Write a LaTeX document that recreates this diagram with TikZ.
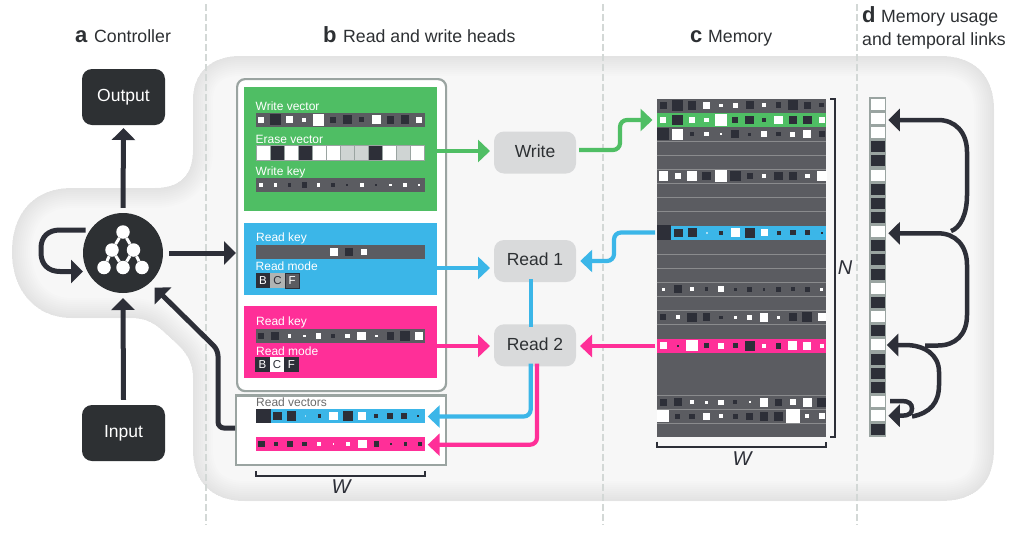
\documentclass[tikz,border=0pt]{standalone}
\usepackage{fontspec}
\setmainfont{Liberation Sans}
\usetikzlibrary{arrows.meta,calc}
\definecolor{cW}{HTML}{FFFFFF}
\definecolor{cK}{HTML}{2D2F38}
\definecolor{cG}{HTML}{CFD4D3}
\definecolor{cL}{HTML}{A9DDF3}
\definecolor{cP}{HTML}{FF9CCB}
\definecolor{barc}{HTML}{5B5C61}
\definecolor{dark}{HTML}{2D3033}
\definecolor{frame}{HTML}{9AA4A1}
\definecolor{nodeg}{HTML}{D9DADB}
\definecolor{gr}{HTML}{4FBE64}
\definecolor{bl}{HTML}{3BB6E8}
\definecolor{pk}{HTML}{FF2F98}
\definecolor{sep}{HTML}{8A8B8D}
\definecolor{dashc}{HTML}{D3D8D6}
\newcommand{\cellrow}[4]{% x0, dx, y, list
  \foreach \c/\s [count=\i from 0] in {#4} {
    \fill[c\c] ({#1+#2*\i-\s/2-0.4},{#3-\s/2-0.4}) rectangle ++({\s+0.8},{\s+0.8});
  }}
\def\blobpath{(240,56) -- (940,56) .. controls (975,56) and (994,76) .. (994,110) -- (994,448) .. controls (994,484) and (975,501) .. (940,501) -- (245,501) .. controls (212,501) and (193,482) .. (193,450) -- (193,378) .. controls (193,362) and (186,352) .. (176,343) -- (163,331) .. controls (152,321) and (143,318) .. (130,318) -- (72,318) .. controls (35,318) and (12,290) .. (12,252) .. controls (12,212) and (35,188) .. (72,188) -- (155,188) .. controls (180,188) and (193,175) .. (193,150) -- (193,100) .. controls (193,72) and (212,56) .. (240,56) -- cycle}
\tikzset{
  x=1pt,y=-1pt,
  head/.style={font=\fontsize{17.7}{20}\selectfont,text=#1,anchor=base west,inner sep=0pt},
  headb/.style={font=\fontsize{22}{22}\selectfont\bfseries,text=dark,anchor=base west,inner sep=0pt},
  darkbox/.style={fill=dark,rounded corners=10pt,minimum width=83pt,minimum height=56pt,inner sep=0pt,text=white,font=\fontsize{17.5}{20}\selectfont,text height=12.5pt,text depth=3.5pt},
  graybox/.style={fill=nodeg,rounded corners=10pt,minimum width=82pt,minimum height=42pt,inner sep=0pt,text=dark,font=\fontsize{17.5}{20}\selectfont,text height=12.6pt,text depth=3pt},
  panel/.style={fill=#1,minimum width=192.5pt,anchor=north west,inner sep=0pt,outer sep=0pt},
  lab/.style={font=\fontsize{12}{14}\selectfont,text=white,anchor=base west,inner sep=0pt},
  modecell/.style={minimum width=14.1pt,minimum height=15pt,inner sep=0pt,anchor=north west,font=\fontsize{11.5}{13}\selectfont},
  bigarrow/.style={line width=5pt,draw=cK,-{Triangle[length=12pt,width=23pt]}},
  colarrow/.style={line width=4.2pt,draw=#1,-{Triangle[length=12pt,width=22pt]},rounded corners=7pt},
  linkarrow/.style={line width=4.5pt,draw=cK,-{Triangle[length=11.5pt,width=22pt]}},
  frm/.style={draw=frame,line width=2.2pt,fill=white},
  brack/.style={draw=cK,line width=2pt},
  usecell/.style={draw=frame,line width=1.6pt,minimum width=15.5pt,minimum height=12.6pt,inner sep=0pt,anchor=north west,outer sep=0pt},
  dashline/.style={draw=dashc,line width=1.6pt,dash pattern=on 7pt off 3pt},
  italw/.style={font=\fontsize{20}{22}\selectfont\itshape,text=cK,inner sep=0pt},
}
\begin{document}
\begin{tikzpicture}
\useasboundingbox (0,0) rectangle (1016,533);
% background blob
\fill[white] (0,0) rectangle (1016,533);
\fill[black!3] \blobpath;
\begin{scope}
  \clip \blobpath;
  \foreach \w in {40,36,...,4} {
    \draw[black,opacity=0.0075,line width=\w pt] \blobpath;
  }
\end{scope}
% dashed separators
\foreach \xx/\nm in {206/da,603/db,857/dc} {
  \coordinate (\nm t) at (\xx,4);
  \coordinate (\nm b) at (\xx,525);
  \draw[dashline] (\nm t) -- (\nm b);
}
% headers
\node[headb] (ha) at (75,42) {a};
\node[head=dark] (hat) at (94,42) {Controller};
\node[headb] (hb) at (323,42) {b};
\node[head=dark] (hbt) at (343,42) {Read and write heads};
\node[headb] (hc) at (690,42) {c};
\node[head=dark] (hct) at (708,42) {Memory};
\node[headb] (hd) at (862,22.5) {d};
\node[head=dark] (hdt) at (881,22.5) {Memory usage};
\node[head=dark] (hdu) at (862,45) {and temporal links};
% controller column
\node[darkbox] (output) at (123.5,97) {Output};
\node[darkbox] (input) at (123.5,433) {Input};
\node[circle,fill=dark,minimum size=80pt,inner sep=0pt] (ctrl) at (123,253) {};
\foreach \nm/\xx/\yy in {n1/123/232,n2/112/250,n3/133.5/250,n4/104/267.5,n5/123/267.5,n6/142/267.5} {
  \node[circle,fill=white,minimum size=13.5pt,inner sep=0pt] (\nm) at (\xx,\yy) {};
}
\foreach \aa/\bb in {n1/n2,n1/n3,n2/n4,n2/n5,n3/n5,n3/n6} {
  \draw[white,line width=3pt] (\aa) -- (\bb);
}
\draw[bigarrow] (ctrl.north) ++(0,-5) -- (output.south |- 0,128);
\draw[bigarrow] (input.north) ++(0,-5) -- (ctrl.south |- 0,298);
\coordinate (loopstart) at (85.5,230);
\coordinate (looptip) at (83,271.5);
\draw[bigarrow] (loopstart) -- (60,230) .. controls (48,230) and (41,237) .. (41,248) -- (41,253) .. controls (41,264) and (48,271.5) .. (60,271.5) -- (looptip);
% read/write heads frame
\node[frm,rounded corners=8pt,minimum width=209pt,minimum height=312pt,inner sep=0pt,anchor=north west] (heads) at (236,78) {};
\node[panel=gr,minimum height=124pt] (pgreen) at (244,87) {};
\node[panel=bl,minimum height=72pt] (pblue) at (244,223) {};
\node[panel=pk,minimum height=72pt] (ppink) at (244,306) {};
% Write vector
\node[lab] (lwv) at (255.5,110) {Write vector};
\fill[barc] (255.7,112.7) rectangle (425,126.7);
\cellrow{261}{14.39}{119.7}{W/5,K/10,W/6,W/3.5,W/11,K/5,K/8.5,K/4,W/8,K/7,K/8,W/5}
% Erase vector
\node[lab] (lev) at (255.5,143.3) {Erase vector};
\fill[frame] (255.7,145) rectangle (425,161);
\foreach \c [count=\i from 0] in {W,K,W,K,W,W,G,G,K,W,G,W} {
  \fill[c\c] ({256.5+14.08*\i},146) rectangle ++(13,14);
}
% Write key
\node[lab] (lwk) at (255.5,175.3) {Write key};
\fill[barc] (255.7,178) rectangle (425,192);
\cellrow{261}{14.39}{185}{W/2.5,W/2.5,K/2.5,K/4.5,W/2.5,K/2.5,K/1,W/3,K/1,W/1.5,W/3,W/1.5}
% Read key blue
\node[lab] (lrk1) at (256,241) {Read key};
\fill[barc] (255.7,245) rectangle (425,258.7);
\fill[white] (330.3,248) rectangle ++(8,8);
\fill[cK] (345.3,248) rectangle ++(8,8);
\fill[white] (360.7,249) rectangle ++(6,6);
\node[lab] (lrm1) at (255.5,270) {Read mode};
\node[modecell,fill=cK,text=white] (b1) at (255.7,272.5) {B};
\node[modecell,fill=cG!85!black,text=cK] (c1) at (b1.north east) {C};
\node[modecell,fill=barc,text=white,draw=cK,line width=0.6pt] (f1) at (c1.north east) {F};
% Read key pink
\node[lab] (lrk2) at (256,325) {Read key};
\fill[barc] (255.7,329) rectangle (425,343);
\cellrow{261}{14.39}{336}{K/6,K/7,W/2.5,W/2,W/4.5,K/3,W/4,W/8,W/2,K/7,K/9.5,W/7}
\node[lab] (lrm2) at (256,355) {Read mode};
\node[modecell,fill=cK,text=white] (b2) at (255.2,356.7) {B};
\node[modecell,fill=white,text=cK] (c2) at (b2.north east) {C};
\node[modecell,fill=cK,text=white] (f2) at (c2.north east) {F};
% Read vectors
\node[frm,minimum width=209.5pt,minimum height=69.5pt,inner sep=0pt,anchor=north west] (rv) at (235,394.3) {};
\node[lab,text=black!58] (lrv) at (256,406.7) {Read vectors};
\fill[bl] (256,409) rectangle (425,423);
\cellrow{263.3}{14.08}{416}{K/14,K/7.5,K/8.5,L/1,K/2.5,W/8,K/9,W/6.5,K/3,K/4.5,K/4.5,K/1.5}
\fill[pk] (256,437) rectangle (425,451);
\cellrow{261.5}{14.39}{444}{K/6,K/3,K/5.5,K/4,W/3,W/1,W/3.5,W/8,K/4.5,K/2,K/3,K/3}
\coordinate (wl1) at (256,471);
\coordinate (wr1) at (425,471);
\draw[brack] (wl1) -- ++(0,4.5) -| (wr1);
\node[italw] (w1) at (341,487) {W};
% output of read vectors to controller
\draw[bigarrow,rounded corners=6pt] (rv.west |- 0,428) -- (218,428) -- (218,350) -- (154.5,287.5);
% controller to heads
\draw[bigarrow] (ctrl.east) ++(6,0) -- (heads.west |- ctrl.east);
% head nodes
\node[graybox] (write) at (535,152.5) {Write};
\node[graybox] (read1) at (535,261) {Read 1};
\node[graybox] (read2) at (535,345.3) {Read 2};
\draw[colarrow=gr] (pgreen.east |- 0,151) -- (490,151);
\draw[colarrow=bl] (pblue.east |- 0,268) -- (490,268);
\draw[colarrow=pk] (ppink.east |- 0,346) -- (490,346);
\draw[line width=4.2pt,draw=bl] ([xshift=-4.3pt,yshift=3pt]read1.south) -- ([xshift=-4.3pt,yshift=-3pt]read2.north);
% memory
\fill[barc] (656.7,99) rectangle (826,437.3);
\coordinate (memtl) at (656.7,99);
\foreach \k in {3,4,5,6,7,8,11,12,13,14,15,16,21,22,23} {
  \draw[sep,line width=1pt] (656.7,{99+14.1*\k}) -- (826,{99+14.1*\k});
}
\fill[gr] (656.7,113.2) rectangle (826,127.3);
\fill[bl] (656.7,225.9) rectangle (826,240);
\fill[pk] (656.7,338.5) rectangle (826,352.7);
\def\mx{663.3}\def\mdx{14.39}
\cellrow{\mx}{\mdx}{105.2}{K/6.5,K/10,K/8,W/6.5,W/2.5,W/4.5,K/7,W/3.5,K/5,K/9.5,K/6.5,K/3.5}
\cellrow{\mx}{\mdx}{120}{W/5,K/10,W/6,W/3.5,W/11,K/5,K/8,K/4,W/8,K/7,K/8,W/5}
\cellrow{\mx}{\mdx}{134.3}{K/11,W/10,K/3.5,W/3.5,W/1.5,K/7,K/2.5,W/5,K/3.5,W/4.5,W/7,K/5}
\cellrow{\mx}{\mdx}{176}{W/8.5,W/5,W/8.5,K/7.5,W/11,K/10,K/5,W/4,K/8,K/7.5,W/4,W/9}
\cellrow{664}{14.34}{232.7}{K/14,K/7.5,K/8.5,L/1,K/3,W/8,K/9,W/6.5,K/3,K/4.5,K/4.5,K/1.5}
\cellrow{\mx}{\mdx}{289.3}{W/2.5,K/7.5,W/3,K/3,W/5.5,K/2,K/4,K/2,K/4.5,K/3.5,K/4,W/2.5}
\cellrow{\mx}{\mdx}{317.3}{K/5.5,W/3.5,K/8.5,K/7,K/2.5,W/2.5,W/4.5,W/8,W/2,K/7,K/9.5,W/7}
\cellrow{\mx}{\mdx}{345.7}{W/6,K/1,W/10.5,K/4,W/5.5,K/4,K/9.5,W/3,K/5,W/8,W/7.5,W/3}
\cellrow{\mx}{\mdx}{402.3}{K/6.5,K/7,W/3,W/2,W/4.5,K/3,W/1.5,W/8,K/6.5,W/5,W/8,K/8.5}
\cellrow{\mx}{\mdx}{416.3}{W/11,K/4.5,K/4.5,W/6,W/3.5,K/4.5,K/6,K/8,K/8,W/13,W/3,W/5}
% memory brackets
\coordinate (ntop) at (830,99);
\coordinate (nbot) at (830,437.3);
\draw[brack] (ntop) -- ++(4.5,0) |- (nbot);
\node[italw] (nlab) at (845,268) {N};
\coordinate (wl2) at (656.5,441.5);
\coordinate (wr2) at (826.3,441.5);
\draw[brack] (wl2) -- ++(0,5) -| (wr2);
\node[italw] (w2) at (742,459) {W};
% arrows to and from memory
\coordinate (memgreen) at (652.5,120);
\coordinate (memblue) at (655,232.5);
\coordinate (mempink) at (655,346);
\draw[colarrow=gr] (write.east |- 0,150) ++(3,0) -- (620,150) -- (620,120) -- (memgreen);
\draw[colarrow=bl] (memblue) -- (614,232.5) -- (614,261) -- ([xshift=4pt]read1.east);
\draw[colarrow=pk] (mempink) -- (580,346);
\draw[colarrow=bl] ([xshift=-4.3pt,yshift=3pt]read2.south) -- (530.7,416.5) -- (427.7,416.5);
\draw[colarrow=pk] ([xshift=2pt,yshift=3pt]read2.south) -- (537,444.7) -- (427.7,444.7);
% memory usage column
\foreach \c [count=\i from 0] in {W,W,W,K,K,W,K,K,K,W,K,K,K,W,K,W,K,W,K,K,K,W,W,K} {
  \node[usecell,fill=c\c] (u\i) at (869.8,{98+14.15*\i}) {};
}
% temporal links
\coordinate (s1) at (951,231);
\coordinate (s2) at (925,345.5);
\coordinate (s3) at (912,416.5);
\coordinate (s4) at (890,401);
\draw[linkarrow] (s1) .. controls (960,228) and (967,215) .. (967,195) -- (967,152) .. controls (967,132) and (955,120) .. (938,120) -- ([xshift=3pt]u1.east |- 0,120);
\draw[linkarrow] (s2) -- (938,345.5) .. controls (955,345.5) and (967,335) .. (967,315) -- (967,265) .. controls (967,245) and (955,233.3) .. (938,233.3) -- ([xshift=3pt]u9.east |- 0,233.3);
\draw[linkarrow] (s3) .. controls (930,413) and (939,403) .. (939,385) -- (939,372) .. controls (939,355) and (925,345) .. (905,345) -- ([xshift=1.5pt]u17.east |- 0,345);
\draw[linkarrow] (s4) -- (902,401) .. controls (909,401) and (912,404) .. (912,408.5) .. controls (912,413) and (909,415.7) .. (902,415.7) -- ([xshift=3pt]u22.east |- 0,415.7);
\end{tikzpicture}
\end{document}
